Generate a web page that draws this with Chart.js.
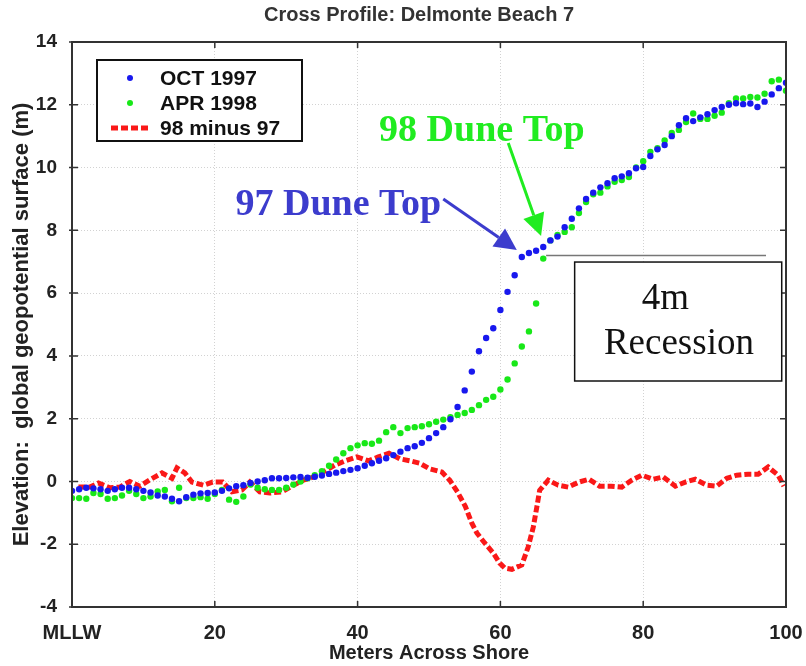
<!DOCTYPE html>
<html>
<head>
<meta charset="utf-8">
<title>Cross Profile: Delmonte Beach 7</title>
<script src="https://cdn.jsdelivr.net/npm/chart.js@4.4.1/dist/chart.umd.min.js"></script>
<style>
  html, body { margin: 0; padding: 0; background: #fff; }
  #wrap { width: 806px; height: 666px; }
</style>
</head>
<body>
<div id="wrap"><canvas id="profile"></canvas></div>
<script>
// distance across shore (m), shared by both survey series
const meters = [
  0, 1, 2, 3, 4, 5, 6, 7, 8, 9, 10, 11, 12, 13, 14, 15, 16, 17, 18, 19,
  20, 21, 22, 23, 24, 25, 26, 27, 28, 29, 30, 31, 32, 33, 34, 35, 36, 37, 38, 39,
  40, 41, 42, 43, 44, 45, 46, 47, 48, 49, 50, 51, 52, 53, 54, 55, 56, 57, 58, 59,
  60, 61, 62, 63, 64, 65, 66, 67, 68, 69, 70, 71, 72, 73, 74, 75, 76, 77, 78, 79,
  80, 81, 82, 83, 84, 85, 86, 87, 88, 89, 90, 91, 92, 93, 94, 95, 96, 97, 98, 99, 100
];

const oct1997 = [
  -0.30, -0.25, -0.20, -0.22, -0.25, -0.30, -0.25, -0.20, -0.20, -0.25,
  -0.30, -0.35, -0.45, -0.48, -0.55, -0.63, -0.50, -0.42, -0.38, -0.37,
  -0.35, -0.30, -0.22, -0.15, -0.12, -0.05, 0.00, 0.04, 0.10, 0.10,
  0.11, 0.13, 0.14, 0.12, 0.15, 0.19, 0.24, 0.28, 0.33, 0.37,
  0.42, 0.50, 0.58, 0.66, 0.74, 0.84, 0.95, 1.06, 1.12, 1.23,
  1.38, 1.54, 1.73, 1.98, 2.37, 2.90, 3.50, 4.15, 4.57, 4.88,
  5.46, 6.04, 6.57, 7.15, 7.28, 7.35, 7.47, 7.68, 7.80, 8.10,
  8.37, 8.70, 9.00, 9.20, 9.37, 9.50, 9.66, 9.72, 9.82, 9.98,
  10.02, 10.37, 10.58, 10.72, 11.00, 11.35, 11.57, 11.48, 11.60, 11.70,
  11.83, 11.93, 12.00, 12.05, 12.02, 12.04, 11.93, 12.10, 12.33, 12.53, 12.70
];

const apr1998 = [
  -0.53, -0.53, -0.55, -0.37, -0.40, -0.55, -0.53, -0.45, -0.30, -0.40,
  -0.53, -0.48, -0.32, -0.27, -0.63, -0.20, -0.53, -0.53, -0.50, -0.55,
  -0.40, -0.27, -0.58, -0.65, -0.48, -0.10, -0.20, -0.25, -0.27, -0.27,
  -0.20, -0.10, 0.00, 0.10, 0.20, 0.33, 0.50, 0.70, 0.90, 1.06,
  1.15, 1.22, 1.20, 1.30, 1.57, 1.73, 1.54, 1.70, 1.73, 1.76,
  1.82, 1.90, 1.97, 2.05, 2.12, 2.18, 2.28, 2.43, 2.60, 2.70,
  2.93, 3.25, 3.76, 4.30, 4.78, 5.67, 7.10, 7.68, 7.85, 7.95,
  8.10, 8.55, 8.90, 9.15, 9.20, 9.40, 9.55, 9.60, 9.70, 10.00,
  10.20, 10.50, 10.62, 10.86, 11.10, 11.20, 11.45, 11.72, 11.55, 11.55,
  11.65, 11.75, 12.05, 12.20, 12.20, 12.25, 12.23, 12.35, 12.75, 12.80, 12.45
];

// difference curve, read at its own positions
const diffMeters = [
  0.9, 2.5, 3.7, 5.3, 6.7, 8.1, 9.5, 10.9, 12.6, 14.0, 14.7, 15.8, 16.8, 18.4, 19.7,
  21.1, 22.4, 23.8, 24.9, 26.3, 27.7, 29.4, 30.8, 32.4, 33.8, 35.4, 36.8, 38.2, 39.9,
  41.5, 42.9, 44.4, 45.9, 47.3, 48.7, 50.1, 51.8, 52.9, 54.0, 55.1, 56.0, 56.7, 57.8,
  59.0, 59.9, 60.6, 61.6, 63.0, 63.9, 64.6, 65.1, 65.5, 66.7, 68.1, 69.5, 71.0, 72.4,
  73.9, 75.5, 77.0, 78.4, 79.8, 81.4, 82.8, 84.5, 85.9, 87.3, 88.9, 90.3, 91.7, 93.1,
  94.7, 96.1, 97.5, 98.9, 99.7
];
const diff98minus97 = [
  -0.18, -0.18, -0.05, -0.20, -0.18, 0.00, -0.15, 0.05, 0.27, 0.10, 0.43, 0.27, -0.02, -0.12, -0.02,
  -0.02, -0.33, -0.27, -0.02, -0.33, -0.37, -0.33, -0.15, 0.04, 0.14, 0.33, 0.52, 0.65, 0.78,
  0.66, 0.78, 0.90, 0.72, 0.66, 0.58, 0.40, 0.30, 0.04, -0.34, -0.80, -1.33, -1.64, -1.96,
  -2.28, -2.60, -2.76, -2.80, -2.66, -2.08, -1.46, -0.82, -0.28, 0.04, -0.12, -0.18, -0.02, 0.07,
  -0.15, -0.15, -0.18, 0.04, 0.20, 0.07, 0.14, -0.15, -0.02, 0.07, -0.12, -0.15, 0.10, 0.20,
  0.23, 0.23, 0.46, 0.20, -0.15
];

const xTicks = [0, 20, 40, 60, 80, 100];
const yTicks = [-4, -2, 0, 2, 4, 6, 8, 10, 12, 14];

const BLUE = "rgb(24,24,238)";
const GREEN = "rgb(24,232,24)";
const RED = "rgb(250,24,24)";
const SANS = '"Liberation Sans", Arial, sans-serif';
const SERIF = '"Liberation Serif", "Times New Roman", serif';

function pairs(xs, ys) {
  return xs.map((x, i) => ({ x, y: ys[i] }));
}

// arrow with a filled head, pixel coords
function arrow(ctx, x1, y1, x2, y2, color, head) {
  const ang = Math.atan2(y2 - y1, x2 - x1);
  const bx = x2 - Math.cos(ang) * head;
  const by = y2 - Math.sin(ang) * head;
  ctx.strokeStyle = color;
  ctx.fillStyle = color;
  ctx.lineWidth = 3;
  ctx.beginPath();
  ctx.moveTo(x1, y1);
  ctx.lineTo(bx, by);
  ctx.stroke();
  ctx.beginPath();
  ctx.moveTo(x2, y2);
  ctx.lineTo(bx + Math.sin(ang) * head * 0.5, by - Math.cos(ang) * head * 0.5);
  ctx.lineTo(bx - Math.sin(ang) * head * 0.5, by + Math.cos(ang) * head * 0.5);
  ctx.closePath();
  ctx.fill();
}

const extras = {
  id: "extras",
  afterDraw(chart) {
    const { ctx, chartArea: a, scales } = chart;
    const px = (v) => scales.x.getPixelForValue(v);
    const py = (v) => scales.y.getPixelForValue(v);
    ctx.save();

    // frame + inward ticks on all sides
    ctx.strokeStyle = "#333";
    ctx.lineWidth = 2;
    ctx.strokeRect(a.left, a.top, a.right - a.left, a.bottom - a.top);
    ctx.lineWidth = 1.5;
    ctx.beginPath();
    xTicks.forEach((v) => {
      const x = px(v);
      ctx.moveTo(x, a.bottom); ctx.lineTo(x, a.bottom - 6);
      ctx.moveTo(x, a.top); ctx.lineTo(x, a.top + 6);
    });
    yTicks.forEach((v) => {
      const y = py(v);
      ctx.moveTo(a.left - 3, y); ctx.lineTo(a.left + 6, y);
      ctx.moveTo(a.right, y); ctx.lineTo(a.right - 6, y);
    });
    ctx.stroke();

    // title
    ctx.fillStyle = "#333";
    ctx.font = "bold 20px " + SANS;
    ctx.textAlign = "center";
    ctx.textBaseline = "middle";
    ctx.fillText("Cross Profile: Delmonte Beach 7", 419, 15);

    // legend
    const lx = a.left + 25, ly = a.top + 18;
    ctx.fillStyle = "#fff";
    ctx.fillRect(lx, ly, 205, 81);
    ctx.strokeStyle = "#111";
    ctx.lineWidth = 2;
    ctx.strokeRect(lx, ly, 205, 81);
    ctx.font = "bold 21px " + SANS;
    ctx.textAlign = "left";
    chart.data.datasets.forEach((ds) => {
      const cy = ly + 18 + ds.legendRow * 25;
      if (ds.showLine) {
        ctx.strokeStyle = ds.borderColor;
        ctx.lineWidth = 5;
        ctx.setLineDash([7, 3]);
        ctx.beginPath();
        ctx.moveTo(lx + 14, cy);
        ctx.lineTo(lx + 52, cy);
        ctx.stroke();
        ctx.setLineDash([]);
      } else {
        ctx.fillStyle = ds.backgroundColor;
        ctx.beginPath();
        ctx.arc(lx + 33, cy, 3, 0, Math.PI * 2);
        ctx.fill();
      }
      ctx.fillStyle = "#111";
      ctx.fillText(ds.label, lx + 63, cy + 1);
    });

    // recession reference line and box
    ctx.strokeStyle = "#777";
    ctx.lineWidth = 1.5;
    ctx.beginPath();
    ctx.moveTo(px(66.4), py(7.2));
    ctx.lineTo(px(97.2), py(7.2));
    ctx.stroke();

    const bx1 = px(70.4), by1 = py(6.99), bx2 = px(99.4), by2 = py(3.2);
    ctx.fillStyle = "#fff";
    ctx.fillRect(bx1, by1, bx2 - bx1, by2 - by1);
    ctx.strokeStyle = "#111";
    ctx.lineWidth = 1.5;
    ctx.strokeRect(bx1, by1, bx2 - bx1, by2 - by1);
    ctx.fillStyle = "#111";
    ctx.textAlign = "center";
    ctx.font = "37px " + SERIF;
    ctx.fillText("4m", px(83.1), py(5.81));
    ctx.fillText("Recession", px(85.0), py(4.38));

    // dune top labels
    ctx.font = "bold 38px " + SERIF;
    ctx.fillStyle = "rgb(60,60,205)";
    ctx.fillText("97 Dune Top", px(37.3), py(8.8));
    ctx.fillStyle = "rgb(32,236,32)";
    ctx.fillText("98 Dune Top", px(57.4), py(11.15));

    arrow(ctx, px(52.0), py(9.0), px(62.3), py(7.37), "rgb(60,60,205)", 22);
    arrow(ctx, px(61.1), py(10.78), px(65.7), py(7.82), "rgb(32,236,32)", 22);

    ctx.restore();
  }
};

new Chart(document.getElementById("profile"), {
  type: "scatter",
  data: {
    datasets: [
      {
        label: "98 minus 97",
        type: "line",
        legendRow: 2,
        data: pairs(diffMeters, diff98minus97),
        showLine: true,
        borderColor: RED,
        backgroundColor: RED,
        borderWidth: 5,
        borderDash: [7, 3],
        pointRadius: 0,
        tension: 0,
        order: 3
      },
      {
        label: "APR 1998",
        legendRow: 1,
        data: pairs(meters, apr1998),
        showLine: false,
        backgroundColor: GREEN,
        borderWidth: 0,
        pointRadius: 3.2,
        order: 2
      },
      {
        label: "OCT 1997",
        legendRow: 0,
        data: pairs(meters, oct1997),
        showLine: false,
        backgroundColor: BLUE,
        borderWidth: 0,
        pointRadius: 3.2,
        order: 1
      }
    ]
  },
  options: {
    responsive: true,
    maintainAspectRatio: false,
    animation: false,
    layout: { padding: { top: 42, right: 20, bottom: 0, left: 0 } },
    plugins: {
      legend: { display: false },
      tooltip: { enabled: false }
    },
    scales: {
      x: {
        type: "linear",
        min: 0,
        max: 100,
        afterBuildTicks: (s) => { s.ticks = xTicks.map((v) => ({ value: v })); },
        afterFit: (s) => { s.height = 59; s.paddingLeft = 0; s.paddingRight = 0; },
        grid: { color: "#d2d2d2", lineWidth: 1, drawTicks: false },
        border: { display: false, dash: [1, 2] },
        ticks: {
          padding: 14,
          color: "#222",
          font: { family: SANS, size: 20, weight: "bold" },
          callback: (v) => (v === 0 ? "MLLW" : v)
        },
        title: {
          display: true,
          text: "Meters Across Shore",
          color: "#222",
          padding: { top: 0, bottom: 1 },
          font: { family: SANS, size: 20, weight: "bold" }
        }
      },
      y: {
        type: "linear",
        min: -4,
        max: 14,
        afterBuildTicks: (s) => { s.ticks = yTicks.map((v) => ({ value: v })); },
        afterFit: (s) => { s.width = 72; s.paddingTop = 0; s.paddingBottom = 0; },
        grid: { color: "#d2d2d2", lineWidth: 1, drawTicks: false },
        border: { display: false, dash: [1, 2] },
        ticks: {
          padding: 15,
          color: "#222",
          font: { family: SANS, size: 19, weight: "bold" }
        },
        title: {
          display: true,
          text: "Elevation:  global geopotential surface (m)",
          color: "#222",
          padding: { top: 9, bottom: 0 },
          font: { family: SANS, size: 22, weight: "bold" }
        }
      }
    }
  },
  plugins: [extras]
});
</script>
</body>
</html>
